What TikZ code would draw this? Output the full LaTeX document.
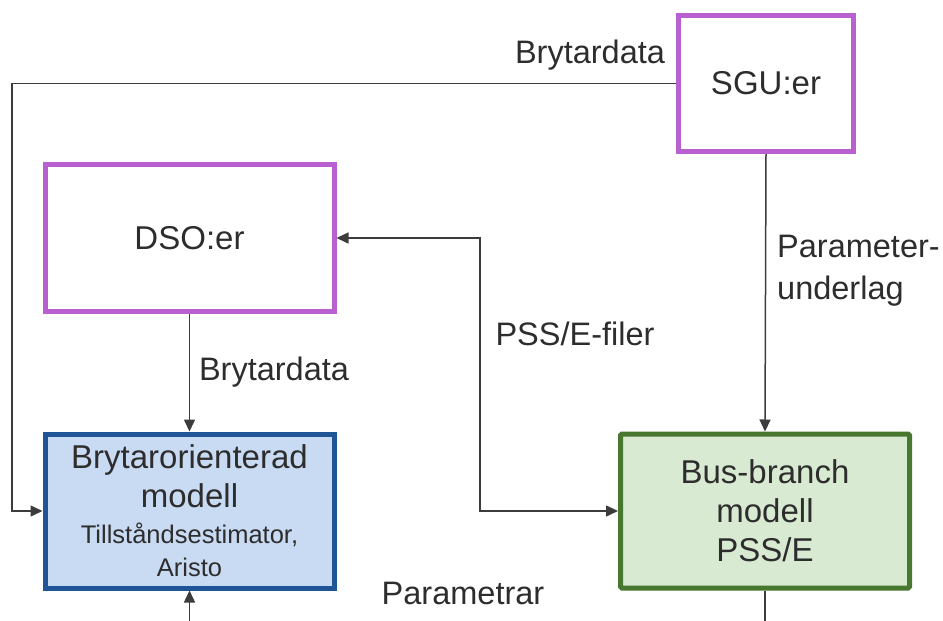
\documentclass[tikz,border=0pt]{standalone}
\usepackage{fontspec}
\setmainfont{Liberation Sans}
\usetikzlibrary{arrows.meta}
\definecolor{purp}{RGB}{184,96,208}
\definecolor{bluebd}{RGB}{31,85,150}
\definecolor{bluefill}{RGB}{201,218,243}
\definecolor{greenbd}{RGB}{72,120,48}
\definecolor{greenfill}{RGB}{217,234,211}
\definecolor{txt}{RGB}{45,45,45}
\definecolor{ln}{RGB}{60,60,60}
\begin{document}
\begin{tikzpicture}[x=1pt,y=-1pt,
  box/.style={draw, line width=5pt, inner sep=0pt, text=txt, align=center, font=\fontsize{33}{39}\selectfont},
  conn/.style={draw=ln, line width=1.5pt, -{Triangle[length=12pt,width=11pt]}},
  plain/.style={draw=ln, line width=1.5pt},
  lbl/.style={text=txt, font=\fontsize{32.5}{42}\selectfont, inner sep=0pt}]
\useasboundingbox (0,0) rectangle (943,621);
\node[box, draw=purp, minimum width=175pt, minimum height=136pt] (sgu) at (766,83.5) {SGU:er};
\node[box, draw=purp, minimum width=289pt, minimum height=147pt] (dso) at (189.5,238) {DSO:er};
\node[box, draw=bluebd, fill=bluefill, minimum width=289pt, minimum height=154pt] (bryt) at (189.5,511)
  {Brytarorienterad\\modell\\[-3pt]{\fontsize{25.5}{30}\selectfont Tillståndsestimator,}\\[-6pt]{\fontsize{25.5}{30}\selectfont Aristo}};
\node[box, draw=greenbd, fill=greenfill, rounded corners=1.5pt, minimum width=289pt, minimum height=154pt] (bus) at (765,511)
  {Bus-branch\\modell\\PSS/E};
\coordinate (lft) at (12,0);
\coordinate (mid) at (480,0);
\coordinate (bot) at (0,621);
\draw[conn] (sgu.west) -- (sgu.west -| lft) |- (bryt.west);
\draw[conn] (sgu.south) -- (bus.north);
\draw[conn] (dso.south) -- (bryt.north);
\draw[conn, {Triangle[length=12pt,width=11pt]}-{Triangle[length=12pt,width=11pt]}] (dso.east) -- (dso.east -| mid) |- (bus.west);
\draw[conn] (bryt.south |- bot) -- (bryt.south);
\draw[plain] (bus.south) -- (bus.south |- bot);
\node[lbl] (l1) at (590,55) {Brytardata};
\node[lbl, align=left, anchor=west] (l2) at (777,271) {Parameter-\\underlag};
\node[lbl] (l3) at (575,334) {PSS/E-filer};
\node[lbl] (l4) at (274,372) {Brytardata};
\node[lbl] (l5) at (463,593) {Parametrar};
\end{tikzpicture}
\end{document}
